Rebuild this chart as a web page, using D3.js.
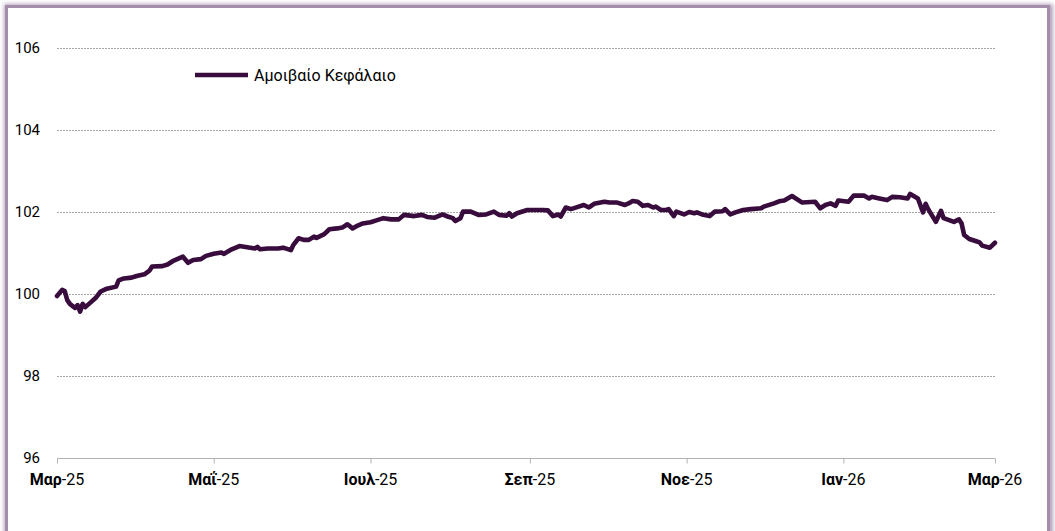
<!DOCTYPE html>
<html lang="el">
<head>
    <meta charset="UTF-8">
    <title>Αμοιβαίο Κεφάλαιο</title>
    <script src="https://cdnjs.cloudflare.com/ajax/libs/d3/7.6.1/d3.min.js"></script>
    <style>
        body { margin: 0; background: #fff; font-family: Roboto, 'Noto Sans', sans-serif; }
        #frame {
            position: absolute; left: 5px; top: 5px; width: 1039px; height: 600px;
            border: 3px solid #a48cab;
            box-shadow: 1px 1px 4px 2px rgba(120, 90, 130, 0.55);
            background: #fff;
        }
        #svgBox { position: absolute; left: 0; top: 0; }
    </style>
</head>
<body>
    <div id="frame"></div>
    <div id="svgBox"></div>
    <script>
        // data
        var seriesName = 'Αμοιβαίο Κεφάλαιο';
        var dates = [
            '2025-03-01','2025-03-03','2025-03-04','2025-03-05','2025-03-06','2025-03-08','2025-03-09','2025-03-10',
            '2025-03-11','2025-03-12','2025-03-14','2025-03-16','2025-03-18','2025-03-20','2025-03-24','2025-03-25',
            '2025-03-27','2025-03-30','2025-04-01','2025-04-04','2025-04-06','2025-04-07','2025-04-11','2025-04-13',
            '2025-04-15','2025-04-19','2025-04-21','2025-04-23','2025-04-26','2025-04-28','2025-05-01','2025-05-04',
            '2025-05-05','2025-05-08','2025-05-11','2025-05-14','2025-05-17','2025-05-18','2025-05-19','2025-05-22',
            '2025-05-26','2025-05-28','2025-05-31','2025-06-01','2025-06-03','2025-06-05','2025-06-07','2025-06-09',
            '2025-06-10','2025-06-13','2025-06-15','2025-06-18','2025-06-20','2025-06-22','2025-06-24','2025-06-26',
            '2025-06-28','2025-07-01','2025-07-03','2025-07-06','2025-07-09','2025-07-12','2025-07-14','2025-07-18',
            '2025-07-21','2025-07-23','2025-07-26','2025-07-29','2025-07-31','2025-08-02','2025-08-03','2025-08-05',
            '2025-08-06','2025-08-09','2025-08-12','2025-08-15','2025-08-18','2025-08-20','2025-08-23','2025-08-24',
            '2025-08-25','2025-08-27','2025-08-31','2025-09-04','2025-09-06','2025-09-08','2025-09-10','2025-09-12',
            '2025-09-13','2025-09-15','2025-09-17','2025-09-20','2025-09-22','2025-09-24','2025-09-26','2025-09-30',
            '2025-10-02','2025-10-05','2025-10-08','2025-10-10','2025-10-11','2025-10-13','2025-10-15','2025-10-17',
            '2025-10-19','2025-10-20','2025-10-22','2025-10-24','2025-10-25','2025-10-27','2025-10-28','2025-10-31',
            '2025-11-02','2025-11-04','2025-11-05','2025-11-07','2025-11-10','2025-11-12','2025-11-15','2025-11-16',
            '2025-11-18','2025-11-20','2025-11-23','2025-11-26','2025-11-30','2025-12-01','2025-12-05','2025-12-07',
            '2025-12-09','2025-12-12','2025-12-16','2025-12-21','2025-12-23','2025-12-25','2025-12-27','2025-12-29',
            '2025-12-30','2026-01-03','2026-01-05','2026-01-09','2026-01-11','2026-01-12','2026-01-15','2026-01-18',
            '2026-01-20','2026-01-23','2026-01-26','2026-01-27','2026-01-30','2026-02-01','2026-02-02','2026-02-03',
            '2026-02-06','2026-02-08','2026-02-09','2026-02-13','2026-02-15','2026-02-16','2026-02-17','2026-02-19',
            '2026-02-22','2026-02-23','2026-02-24','2026-02-27','2026-03-01'
        ];
        var values = [
            99.95, 100.10, 100.07, 99.85, 99.76, 99.66, 99.73, 99.57,
            99.76, 99.68, 99.79, 99.90, 100.06, 100.12, 100.18, 100.33,
            100.38, 100.40, 100.44, 100.48, 100.57, 100.67, 100.68, 100.72,
            100.80, 100.91, 100.76, 100.83, 100.85, 100.93, 100.98, 101.01,
            100.98, 101.09, 101.17, 101.14, 101.11, 101.15, 101.09, 101.11,
            101.11, 101.13, 101.07, 101.20, 101.36, 101.32, 101.32, 101.40,
            101.37, 101.46, 101.58, 101.60, 101.62, 101.70, 101.60, 101.67,
            101.72, 101.75, 101.79, 101.85, 101.82, 101.82, 101.93, 101.90,
            101.93, 101.88, 101.86, 101.94, 101.89, 101.85, 101.78, 101.85,
            102.01, 102.01, 101.93, 101.94, 102.01, 101.93, 101.91, 101.97,
            101.89, 101.97, 102.05, 102.05, 102.05, 102.04, 101.90, 101.94,
            101.89, 102.11, 102.07, 102.13, 102.17, 102.11, 102.20, 102.25,
            102.23, 102.23, 102.17, 102.23, 102.27, 102.25, 102.15, 102.17,
            102.11, 102.13, 102.05, 102.05, 102.07, 101.90, 102.01, 101.94,
            102.00, 101.97, 101.99, 101.94, 101.90, 102.01, 102.02, 102.07,
            101.94, 101.99, 102.05, 102.07, 102.09, 102.13, 102.21, 102.26,
            102.28, 102.39, 102.23, 102.25, 102.09, 102.17, 102.21, 102.15,
            102.28, 102.25, 102.40, 102.40, 102.33, 102.37, 102.33, 102.29,
            102.37, 102.36, 102.33, 102.44, 102.33, 101.99, 102.20, 102.07,
            101.76, 102.03, 101.85, 101.76, 101.82, 101.72, 101.44, 101.34,
            101.28, 101.26, 101.18, 101.13, 101.25
        ];
        var yTicks = [96, 98, 100, 102, 104, 106];
        var xTicks = ['2025-03-01','2025-05-01','2025-07-01','2025-09-01','2025-11-01','2026-01-01','2026-03-01'];
        var monthNames = ['Ιαν','Φεβ','Μαρ','Απρ','Μαΐ','Ιουν','Ιουλ','Αυγ','Σεπ','Οκτ','Νοε','Δεκ'];

        var w = 1055,
            h = 531,
            parse = d3.timeParse('%Y-%m-%d'),
            svg = d3.select('#svgBox')
                        .append('svg')
                        .attr('width', w)
                        .attr('height', h);

        var data = dates.map((d, i) => ({ date: parse(d), value: values[i] }));

        var xScale = d3.scaleTime()
                    .domain([parse(xTicks[0]), parse(xTicks[xTicks.length - 1])])
                    .range([57, 995]);
        var yScale = d3.scaleLinear()
                    .domain([96, 106])
                    .range([458, 48]);

        // GRIDLINES
        svg.append('g')
            .selectAll('line')
            .data(yTicks.slice(1))
            .enter()
            .append('line')
            .attr('x1', xScale.range()[0])
            .attr('x2', xScale.range()[1])
            .attr('y1', (d) => yScale(d) + 0.5)
            .attr('y2', (d) => yScale(d) + 0.5)
            .style('stroke', '#a6a6a6')
            .style('stroke-width', 1)
            .style('stroke-dasharray', '2,1');

        // Y-AXIS labels
        var yAxis = d3.axisLeft(yScale).tickValues(yTicks).tickSize(0).tickPadding(17);
        svg.append('g')
            .attr('transform', 'translate(57,0)')
            .call(yAxis)
            .call((g) => g.select('.domain').remove())
            .selectAll('text')
            .style('font-family', 'Roboto, sans-serif')
            .style('font-size', '15px')
            .style('fill', '#000');

        // X-AXIS
        var xAxis = d3.axisBottom(xScale)
                    .tickValues(xTicks.map(parse))
                    .tickSize(5)
                    .tickFormat('');
        var xg = svg.append('g')
            .attr('transform', 'translate(0,' + (yScale(96) + 0.5) + ')')
            .call(xAxis);
        xg.select('.domain').style('stroke', '#b3b3b3').attr('d', 'M' + xScale.range()[0] + ',0H' + xScale.range()[1]);
        xg.selectAll('.tick line').style('stroke', '#b3b3b3');

        var xLabels = svg.append('g')
            .selectAll('text')
            .data(xTicks.map(parse))
            .enter()
            .append('text')
            .attr('x', (d) => xScale(d))
            .attr('y', 485)
            .attr('text-anchor', 'middle')
            .style('font-family', 'Roboto, sans-serif')
            .style('font-size', '16px');
        xLabels.append('tspan')
            .style('font-weight', 'bold')
            .text((d) => monthNames[d.getMonth()]);
        xLabels.append('tspan')
            .text((d) => '-' + d3.timeFormat('%y')(d));

        // LINE
        var line = d3.line()
                    .x((d) => xScale(d.date))
                    .y((d) => yScale(d.value));
        svg.append('path')
            .datum(data)
            .attr('d', line)
            .style('fill', 'none')
            .style('stroke', '#380c3c')
            .style('stroke-width', 4.6)
            .style('stroke-linejoin', 'round')
            .style('stroke-linecap', 'round');

        // LEGEND
        var legend = svg.append('g').attr('transform', 'translate(195,75)');
        legend.append('line')
            .attr('x1', 0)
            .attr('x2', 53)
            .style('stroke', '#380c3c')
            .style('stroke-width', 4.6);
        legend.append('text')
            .attr('x', 59)
            .attr('y', 5.5)
            .text(seriesName)
            .style('font-family', 'Roboto, sans-serif')
            .style('font-size', '16px');
    </script>
</body>
</html>
